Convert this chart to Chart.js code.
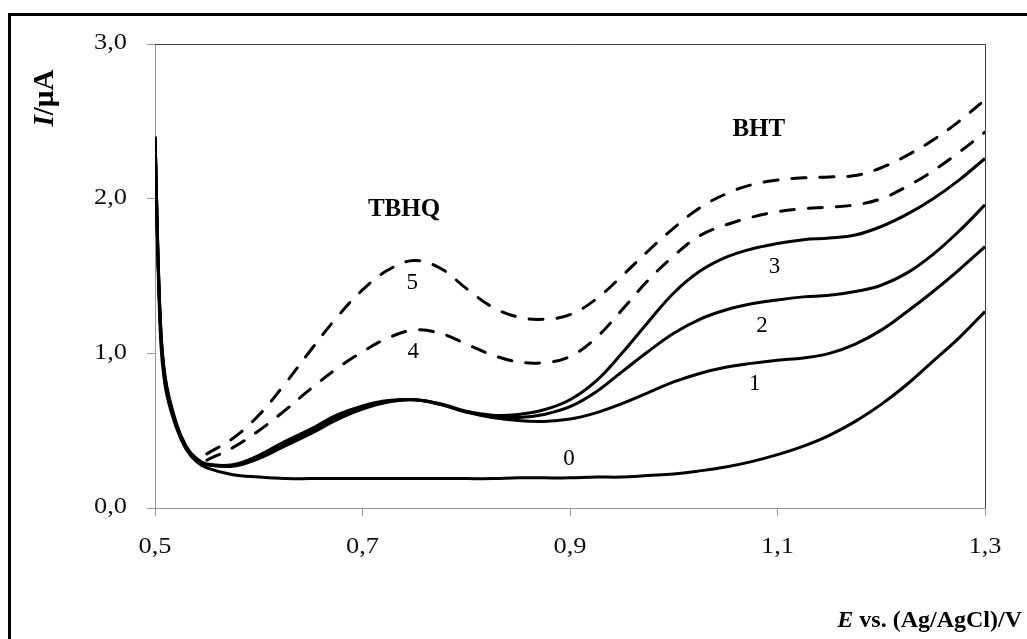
<!DOCTYPE html>
<html lang="en">
<head>
<meta charset="UTF-8">
<title>Voltammograms TBHQ / BHT</title>
<script src="https://cdn.jsdelivr.net/npm/chart.js"></script>
<style>
  html, body { margin: 0; padding: 0; background: #fff; }
</style>
</head>
<body>
<canvas id="myChart" width="1027" height="639"></canvas>
<script>
// potential axis (V) shared by all curves
const potentials = [0.50, 0.505, 0.51, 0.52, 0.53, 0.54, 0.55, 0.575, 0.60, 0.625, 0.65, 0.675, 0.70, 0.725, 0.75, 0.775, 0.80, 0.825, 0.85, 0.875, 0.90, 0.925, 0.95, 0.975, 1.00, 1.025, 1.05, 1.075, 1.10, 1.125, 1.15, 1.175, 1.20, 1.225, 1.25, 1.275, 1.30];

// current (uA), curves 0..3 solid, 4..5 dashed
const curve0 = [2.40, 1.15, 0.78, 0.53, 0.38, 0.30, 0.26, 0.215, 0.20, 0.19, 0.19, 0.19, 0.19, 0.19, 0.19, 0.19, 0.19, 0.19, 0.195, 0.195, 0.195, 0.20, 0.20, 0.21, 0.22, 0.24, 0.265, 0.30, 0.345, 0.40, 0.47, 0.56, 0.67, 0.80, 0.95, 1.10, 1.27];
const curve1 = [2.40, 1.22, 0.82, 0.55, 0.39, 0.31, 0.28, 0.27, 0.32, 0.40, 0.48, 0.57, 0.64, 0.685, 0.70, 0.67, 0.62, 0.585, 0.565, 0.56, 0.575, 0.615, 0.675, 0.745, 0.815, 0.87, 0.91, 0.935, 0.955, 0.97, 1.00, 1.06, 1.15, 1.27, 1.40, 1.54, 1.69];
const curve2 = [2.40, 1.22, 0.82, 0.55, 0.39, 0.31, 0.28, 0.275, 0.33, 0.415, 0.495, 0.585, 0.65, 0.69, 0.70, 0.67, 0.62, 0.595, 0.585, 0.605, 0.655, 0.75, 0.88, 1.01, 1.13, 1.22, 1.28, 1.32, 1.345, 1.365, 1.375, 1.40, 1.44, 1.52, 1.64, 1.79, 1.96];
const curve3 = [2.40, 1.24, 0.84, 0.56, 0.40, 0.32, 0.285, 0.28, 0.34, 0.43, 0.51, 0.60, 0.66, 0.695, 0.70, 0.675, 0.625, 0.60, 0.605, 0.635, 0.70, 0.82, 1.00, 1.20, 1.39, 1.53, 1.62, 1.675, 1.71, 1.735, 1.745, 1.765, 1.82, 1.90, 2.00, 2.12, 2.26];
const curve4 = [null, null, null, null, null, null, 0.31, 0.39, 0.50, 0.63, 0.77, 0.90, 1.01, 1.10, 1.15, 1.13, 1.06, 0.99, 0.945, 0.94, 0.98, 1.10, 1.28, 1.47, 1.63, 1.76, 1.83, 1.88, 1.915, 1.935, 1.945, 1.96, 2.00, 2.08, 2.18, 2.30, 2.43];
const curve5 = [null, null, null, null, null, null, 0.35, 0.45, 0.60, 0.80, 1.02, 1.23, 1.41, 1.54, 1.60, 1.55, 1.42, 1.30, 1.235, 1.22, 1.25, 1.35, 1.50, 1.66, 1.81, 1.94, 2.03, 2.09, 2.12, 2.135, 2.14, 2.15, 2.20, 2.28, 2.38, 2.50, 2.64];

const xTicks = [0.5, 0.7, 0.9, 1.1, 1.3];
const yTicks = [0, 1, 2, 3];

// text placed in the plot, at data coordinates
const notes = [
  { text: 'TBHQ', x: 0.740, y: 1.93, bold: true },
  { text: 'BHT', x: 1.082, y: 2.445, bold: true },
  { text: '5', x: 0.748, y: 1.455 },
  { text: '4', x: 0.749, y: 1.01 },
  { text: '3', x: 1.097, y: 1.56 },
  { text: '2', x: 1.085, y: 1.18 },
  { text: '1', x: 1.078, y: 0.80 },
  { text: '0', x: 0.899, y: 0.32 }
];

const SERIF = '"Liberation Serif", "DejaVu Serif", serif';
const fmt = v => v.toFixed(1).replace('.', ',');

function points(ys) {
  return potentials.map((x, i) => ({ x: x, y: ys[i] }));
}

function line(ys, dashed) {
  return {
    data: points(ys),
    borderColor: '#000',
    borderWidth: 3,
    borderDash: dashed ? [14, 14] : [],
    borderCapStyle: dashed ? 'round' : 'butt',
    pointRadius: 0,
    fill: false,
    tension: 0.4,
    spanGaps: false
  };
}

// text stretched horizontally like the original picture
function wideText(c, text, x, y, sx) {
  c.save();
  c.translate(x, y);
  c.scale(sx, 1);
  c.fillText(text, 0, 0);
  c.restore();
}

const decor = {
  id: 'decor',
  beforeDraw(chart) {
    const c = chart.ctx;
    c.save();
    c.fillStyle = '#fff';
    c.fillRect(0, 0, chart.width, chart.height);
    // outer frame
    c.strokeStyle = '#000';
    c.lineWidth = 3;
    c.beginPath();
    c.moveTo(9.5, chart.height + 2);
    c.lineTo(9.5, 14.5);
    c.lineTo(chart.width + 2, 14.5);
    c.stroke();
    c.restore();
  },
  afterDraw(chart) {
    const c = chart.ctx;
    const a = chart.chartArea;
    const xs = chart.scales.x, ys = chart.scales.y;
    c.save();
    // plot area border top/right
    c.strokeStyle = '#404040';
    c.lineWidth = 1;
    c.beginPath();
    c.moveTo(a.left, a.top + 0.5);
    c.lineTo(a.right + 0.5, a.top + 0.5);
    c.lineTo(a.right + 0.5, a.bottom);
    c.stroke();

    c.fillStyle = '#111';

    // tick labels
    c.font = '24px ' + SERIF;
    c.textBaseline = 'middle';
    c.textAlign = 'center';
    xTicks.forEach(v => wideText(c, fmt(v), xs.getPixelForValue(v), a.bottom + 39, 1.1));
    c.textAlign = 'right';
    yTicks.forEach(v => wideText(c, fmt(v), a.left - 28, ys.getPixelForValue(v) - 1, 1.1));

    c.fillStyle = '#000';
    c.textAlign = 'center';
    notes.forEach(n => {
      c.font = (n.bold ? 'bold 25px ' : '23px ') + SERIF;
      c.fillText(n.text, xs.getPixelForValue(n.x), ys.getPixelForValue(n.y));
    });

    // y title: I/µA
    c.save();
    c.translate(46, 98);
    c.rotate(-Math.PI / 2);
    c.textAlign = 'left';
    c.font = 'italic bold 29px ' + SERIF;
    const w1 = c.measureText('I').width;
    c.font = 'bold 29px ' + SERIF;
    const w2 = c.measureText('/µA').width;
    const start = -(w1 + w2) / 2;
    c.font = 'italic bold 29px ' + SERIF;
    c.fillText('I', start, 0);
    c.font = 'bold 29px ' + SERIF;
    c.fillText('/µA', start + w1, 0);
    c.restore();

    // x title: E vs. (Ag/AgCl)/V
    c.textAlign = 'left';
    c.textBaseline = 'alphabetic';
    c.font = 'bold 24px ' + SERIF;
    const rest = ' vs. (Ag/AgCl)/V';
    const wr = c.measureText(rest).width;
    c.font = 'italic bold 24px ' + SERIF;
    const we = c.measureText('E').width;
    const x0 = 1022 - wr - we;
    c.fillText('E', x0, 627);
    c.font = 'bold 24px ' + SERIF;
    c.fillText(rest, x0 + we, 627);
    c.restore();
  }
};

const ctx = document.getElementById('myChart').getContext('2d');
new Chart(ctx, {
  type: 'line',
  data: {
    datasets: [
      line(curve0, false),
      line(curve1, false),
      line(curve2, false),
      line(curve3, false),
      line(curve4, true),
      line(curve5, true)
    ]
  },
  options: {
    responsive: false,
    animation: false,
    events: [],
    layout: { padding: { left: 155, right: 42, top: 44, bottom: 131 } },
    plugins: { legend: { display: false }, tooltip: { enabled: false } },
    scales: {
      x: {
        type: 'linear',
        min: 0.5,
        max: 1.3,
        afterFit(s) { s.height = 0; },
        afterBuildTicks(s) { s.ticks = xTicks.map(v => ({ value: v })); },
        border: { display: true, color: '#999', width: 1 },
        grid: { drawOnChartArea: false, drawTicks: true, tickLength: 8, color: '#999' },
        ticks: { display: false }
      },
      y: {
        type: 'linear',
        min: 0,
        max: 3,
        afterFit(s) { s.width = 0; },
        afterBuildTicks(s) { s.ticks = yTicks.map(v => ({ value: v })); },
        border: { display: true, color: '#999', width: 1 },
        grid: { drawOnChartArea: false, drawTicks: true, tickLength: 8, color: '#999' },
        ticks: { display: false }
      }
    }
  },
  plugins: [decor]
});
</script>
</body>
</html>
